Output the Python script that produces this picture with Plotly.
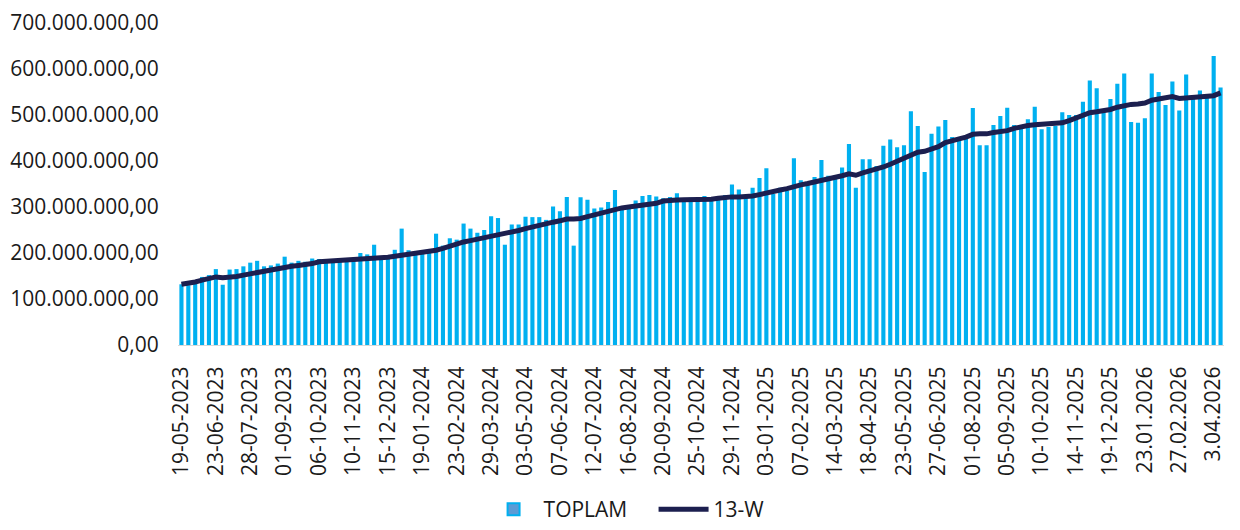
import plotly.graph_objects as go
import pandas as pd

# Weekly dates (Fridays) from 19-05-2023
dates = [d.strftime("%Y-%m-%d") for d in pd.date_range("2023-05-19", periods=152, freq="7D")]

# TOPLAM (millions)
toplam_m = [132, 130, 139, 148, 152, 165, 131, 164, 165, 171,
            179, 183, 171, 173, 177, 192, 179, 183, 181, 188,
            187, 185, 185, 185, 188, 186, 200, 197, 218, 186,
            195, 207, 253, 206, 200, 202, 202, 242, 216, 232,
            229, 264, 253, 244, 250, 280, 276, 218, 262, 262,
            279, 278, 278, 272, 301, 291, 322, 216, 321, 316,
            297, 299, 311, 337, 295, 300, 314, 324, 326, 323,
            319, 322, 330, 319, 320, 320, 324, 321, 322, 326,
            349, 338, 324, 342, 363, 384, 328, 342, 336, 406,
            358, 352, 365, 402, 368, 361, 386, 437, 342, 404,
            404, 389, 433, 447, 430, 434, 508, 476, 376, 459,
            475, 489, 452, 448, 452, 515, 434, 434, 478, 498,
            516, 478, 474, 491, 518, 469, 474, 476, 506, 500,
            500, 529, 575, 558, 506, 535, 568, 590, 485, 483,
            493, 590, 550, 522, 573, 510, 588, 537, 553, 537,
            628, 560]

# 13-W (millions)
w13_m = [132, 134, 137, 141, 145, 148, 146, 147, 149, 152,
         155, 157, 159, 162, 165, 169, 171, 173, 174, 177,
         181, 182, 183, 183, 184, 184, 186, 187, 188, 189,
         191, 193, 195, 197, 200, 202, 203, 206, 210, 215,
         220, 224, 227, 230, 232, 236, 240, 243, 246, 249,
         253, 257, 261, 264, 267, 270, 274, 274, 275, 279,
         283, 287, 292, 295, 298, 300, 302, 304, 306, 308,
         313, 315, 315, 316, 316, 316, 316, 317, 319, 321,
         322, 322, 322, 324, 327, 331, 334, 337, 340, 345,
         348, 351, 354, 357, 360, 364, 368, 372, 369, 374,
         378, 382, 387, 393, 399, 405, 412, 419, 421, 425,
         431, 440, 445, 448, 452, 458, 459, 459, 462, 463,
         466, 471, 475, 477, 479, 481, 481, 482, 483, 488,
         494, 500, 505, 507, 509, 512, 517, 521, 523, 524,
         526, 532, 535, 537, 540, 536, 537, 539, 539, 539,
         542, 548]

toplam = [v * 1e6 for v in toplam_m]
w13 = [v * 1e6 for v in w13_m]

tick_labels = ["19-05-2023", "23-06-2023", "28-07-2023", "01-09-2023", "06-10-2023",
               "10-11-2023", "15-12-2023", "19-01-2024", "23-02-2024", "29-03-2024",
               "03-05-2024", "07-06-2024", "12-07-2024", "16-08-2024", "20-09-2024",
               "25-10-2024", "29-11-2024", "03-01-2025", "07-02-2025", "14-03-2025",
               "18-04-2025", "23-05-2025", "27-06-2025", "01-08-2025", "05-09-2025",
               "10-10-2025", "14-11-2025", "19-12-2025", "23.01.2026", "27.02.2026",
               "3.04.2026"]
tick_vals = dates[::5][:len(tick_labels)]

FONT = "Open Sans"

fig = go.Figure()
fig.add_trace(go.Bar(x=dates, y=toplam, name="TOPLAM", showlegend=False,
                     marker=dict(color="#00b0f0", line=dict(width=0))))
# legend-only swatch
fig.add_trace(go.Bar(x=[None], y=[None], name="TOPLAM",
                     marker=dict(color="#5b9bd5", line=dict(color="#00b0f0", width=2))))
fig.add_trace(go.Scatter(x=dates, y=w13, name="13-W", mode="lines",
                         line=dict(color="#1c1f4f", width=5)))

fig.update_layout(
    width=1232, height=522,
    margin=dict(l=170, r=16, t=15, b=185),
    paper_bgcolor="white", plot_bgcolor="white",
    separators=",.",
    bargap=0.4,
    font=dict(family=FONT, size=21, color="#1a1a1a"),
    legend=dict(orientation="h", xref="container", yref="container",
                x=0.524, xanchor="center", y=0.0, yanchor="bottom",
                font=dict(size=21), entrywidth=105, itemwidth=50,
                traceorder="normal"),
    xaxis=dict(type="category", categoryorder="array", categoryarray=dates,
               range=[-0.5, len(dates) - 0.5],
               tickmode="array", tickvals=tick_vals, ticktext=tick_labels,
               tickangle=-90, ticks="outside", ticklen=12, tickcolor="rgba(0,0,0,0)",
               showgrid=False, showline=True, linecolor="#d9d9d9", linewidth=1,
               tickfont=dict(size=21), automargin=False),
    yaxis=dict(range=[0, 700e6], dtick=100e6, tickformat=",.2f",
               showgrid=False, zeroline=False, showline=False,
               ticks="outside", ticklen=14, tickcolor="rgba(0,0,0,0)",
               tickfont=dict(size=21), automargin=False,
               ticklabeloverflow="allow"),
)

fig.write_html("out.html")
